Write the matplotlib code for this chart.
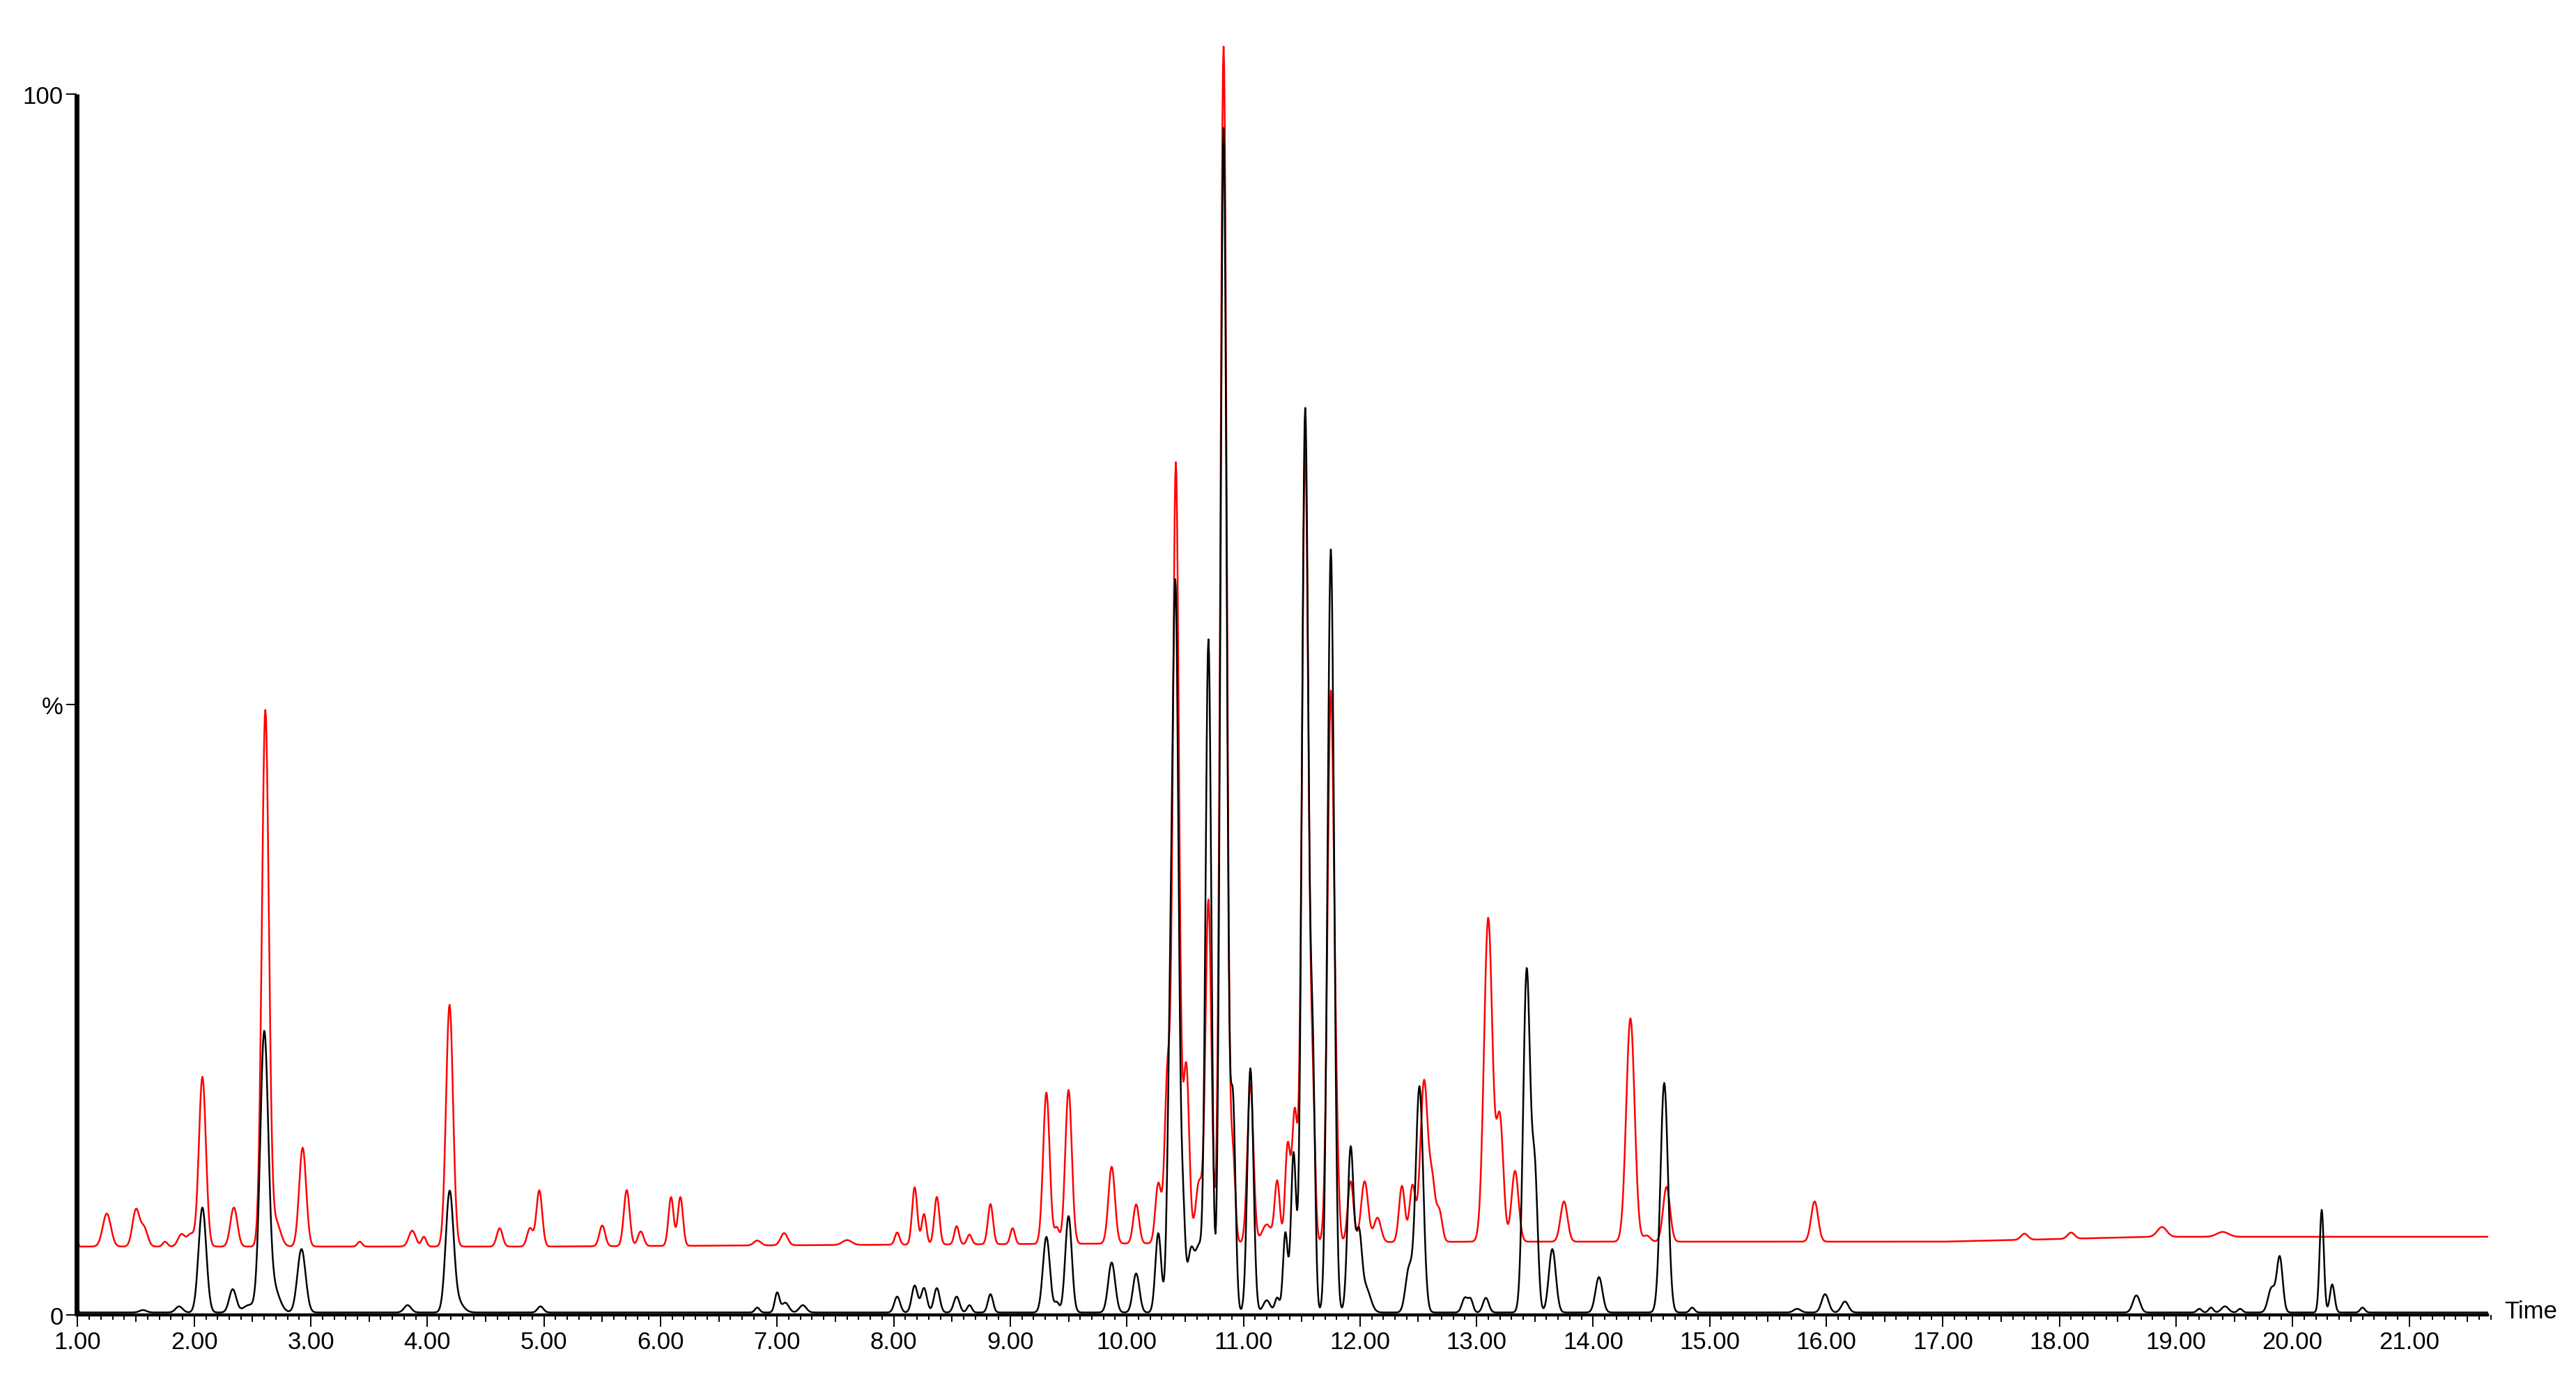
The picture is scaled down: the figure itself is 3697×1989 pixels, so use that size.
import numpy as np
import matplotlib
matplotlib.use("Agg")
import matplotlib.pyplot as plt
from matplotlib.ticker import MultipleLocator, FixedLocator

# ---------------- data ----------------
# Black trace: peak retention times (min), heights (%), widths (sigma, min)
black_rt = [0.995, 1.56, 1.87, 2.07, 2.33, 2.47, 2.60, 2.68, 2.92, 3.83, 4.19, 4.25,
            4.97, 6.83, 7.00, 7.07, 7.22, 8.03, 8.18, 8.26, 8.37, 8.54, 8.65, 8.83,
            9.31, 9.40, 9.50, 9.87, 10.08, 10.27, 10.375, 10.42, 10.48, 10.55, 10.62,
            10.70, 10.83, 10.91, 11.06, 11.20, 11.29, 11.36, 11.43, 11.53, 11.595,
            11.75, 11.92, 11.99, 12.05, 12.42, 12.51, 12.90, 12.95, 13.08, 13.43,
            13.50, 13.65, 14.05, 14.61, 14.85, 15.75, 15.99, 16.16, 18.66, 19.20,
            19.30, 19.42, 19.55, 19.82, 19.89, 20.25, 20.34, 20.60]
black_h = [0.6, 0.2, 0.5, 8.6, 1.9, 0.6, 22.5, 2.0, 5.2, 0.6, 9.5, 1.0,
           0.5, 0.4, 1.6, 0.8, 0.6, 1.3, 2.2, 2.0, 2.0, 1.3, 0.6, 1.5,
           6.2, 0.8, 7.9, 4.1, 3.2, 6.5, 22.0, 55.0, 8.0, 5.0, 5.0,
           55.0, 97.0, 17.0, 20.0, 1.0, 1.2, 6.5, 13.0, 74.0, 19.0,
           62.5, 13.5, 6.0, 2.0, 3.5, 18.5, 1.2, 1.0, 1.2, 28.0,
           11.0, 5.2, 2.9, 18.8, 0.4, 0.3, 1.5, 0.9, 1.4, 0.3,
           0.4, 0.5, 0.3, 2.0, 4.5, 8.4, 2.3, 0.4]
black_w = [0.008, 0.03, 0.03, 0.033, 0.03, 0.05, 0.035, 0.05, 0.035, 0.03, 0.033, 0.05,
           0.025, 0.02, 0.02, 0.03, 0.03, 0.025, 0.025, 0.025, 0.025, 0.025, 0.02, 0.022,
           0.03, 0.02, 0.028, 0.03, 0.028, 0.025, 0.025, 0.025, 0.02, 0.03, 0.03,
           0.025, 0.027, 0.022, 0.026, 0.03, 0.02, 0.02, 0.022, 0.028, 0.02,
           0.028, 0.026, 0.025, 0.04, 0.03, 0.032, 0.025, 0.02, 0.025, 0.03,
           0.025, 0.03, 0.03, 0.032, 0.02, 0.03, 0.03, 0.03, 0.03, 0.02,
           0.02, 0.03, 0.02, 0.03, 0.025, 0.018, 0.02, 0.02]
black_base = 0.2

# Red trace: peak retention times (min), heights above its baseline (%), widths
red_rt = [0.995, 1.25, 1.50, 1.57, 1.75, 1.89, 1.97, 2.07, 2.34, 2.61, 2.70, 2.93,
          3.42, 3.87, 3.97, 4.19, 4.62, 4.88, 4.96, 5.50, 5.71, 5.83, 6.09, 6.17,
          6.83, 7.06, 7.60, 8.03, 8.18, 8.26, 8.37, 8.54, 8.65, 8.83, 9.02, 9.31,
          9.40, 9.50, 9.87, 10.08, 10.27, 10.35, 10.42, 10.46, 10.51, 10.62, 10.70,
          10.83, 10.91, 11.06, 11.20, 11.29, 11.38, 11.44, 11.53, 11.595, 11.75,
          11.80, 11.92, 12.04, 12.15, 12.36, 12.45, 12.55, 12.62, 12.68, 13.10,
          13.20, 13.33, 13.75, 14.32, 14.46, 14.63, 15.90, 17.70, 18.10, 18.88, 19.40]
red_h = [1.0, 2.7, 3.0, 1.5, 0.4, 1.0, 1.0, 13.9, 3.2, 43.8, 2.0, 8.1,
         0.4, 1.3, 0.8, 19.8, 1.5, 1.5, 4.6, 1.7, 4.6, 1.2, 4.0, 4.0,
         0.4, 1.0, 0.4, 1.0, 4.7, 2.5, 3.9, 1.5, 0.8, 3.3, 1.3, 12.4,
         1.3, 12.6, 6.3, 3.2, 4.9, 14.0, 63.0, 5.0, 14.5, 5.0, 28.0,
         98.0, 7.0, 13.0, 1.5, 5.0, 8.0, 10.5, 65.0, 11.0, 45.0,
         4.5, 5.0, 5.0, 2.0, 4.6, 4.6, 13.2, 4.5, 2.5, 26.5,
         10.0, 5.8, 3.3, 18.3, 0.5, 4.5, 3.3, 0.5, 0.5, 0.8, 0.4]
red_w = [0.008, 0.035, 0.03, 0.03, 0.02, 0.03, 0.03, 0.03, 0.03, 0.03, 0.04, 0.03,
         0.02, 0.03, 0.02, 0.03, 0.025, 0.025, 0.025, 0.025, 0.025, 0.025, 0.022, 0.022,
         0.03, 0.03, 0.04, 0.02, 0.022, 0.02, 0.022, 0.02, 0.02, 0.022, 0.02, 0.028,
         0.02, 0.028, 0.028, 0.025, 0.025, 0.025, 0.025, 0.02, 0.025, 0.03, 0.025,
         0.027, 0.02, 0.026, 0.04, 0.022, 0.022, 0.022, 0.028, 0.02, 0.028,
         0.02, 0.025, 0.03, 0.03, 0.025, 0.025, 0.032, 0.025, 0.025, 0.036,
         0.03, 0.03, 0.03, 0.036, 0.03, 0.03, 0.03, 0.03, 0.03, 0.04, 0.05]
# red baseline read at a few times
red_base_t = [0.99, 5.0, 9.0, 13.0, 17.0, 18.8, 21.67]
red_base_v = [5.6, 5.6, 5.8, 6.0, 6.0, 6.4, 6.4]

x_major = [1, 2, 3, 4, 5, 6, 7, 8, 9, 10, 11, 12, 13, 14, 15, 16, 17, 18, 19, 20, 21]
x_labels = ["%.2f" % v for v in x_major]
y_ticks = [0, 50, 100]
y_labels = ["0", "%", "100"]

# ---------------- build traces ----------------
t = np.arange(0.99, 21.67, 0.005)


def trace(rt, h, w, base):
    rt = np.asarray(rt)[:, None]
    h = np.asarray(h)[:, None]
    w = np.asarray(w)[:, None]
    return base + (h * np.exp(-0.5 * ((t[None, :] - rt) / w) ** 2)).sum(axis=0)


black = trace(black_rt, black_h, black_w, black_base)
red = trace(red_rt, red_h, red_w, np.interp(t, red_base_t, red_base_v))

# ---------------- figure ----------------
W, H = 3698, 1990
fig = plt.figure(figsize=(W / 100, H / 100), dpi=100)
fig.patch.set_facecolor("white")
plt.rcParams["font.family"] = ["Liberation Sans", "DejaVu Sans"]

left = 110.3 / W
right = 3578 / W
bottom = (H - 1888) / H
ax = fig.add_axes([left, bottom, right - left, 1.0 - bottom])
ax.set_xlim(0.993, 21.72)
ax.set_ylim(0, 1888 / 17.52)

ax.plot(t, red, color="#ff0000", lw=1.8, zorder=2)
ax.plot(t, black, color="black", lw=1.8, zorder=3)

for s in ["top", "right"]:
    ax.spines[s].set_visible(False)
ax.spines["left"].set_linewidth(5)
ax.spines["left"].set_bounds(0, 100)
ax.spines["bottom"].set_linewidth(3.2)
ax.spines["bottom"].set_bounds(0.993, 21.67)
ax.spines["left"].set_capstyle("butt")

fs = 25
ax.xaxis.set_major_locator(FixedLocator(x_major))
ax.set_xticklabels(x_labels, fontsize=fs)
ax.xaxis.set_minor_locator(MultipleLocator(0.1))
ax.tick_params(axis="x", which="major", length=12, width=1.4, pad=4)
ax.tick_params(axis="x", which="minor", length=5, width=1.4)

ax.set_yticks(y_ticks)
ax.set_yticklabels(y_labels, fontsize=fs)
ax.tick_params(axis="y", which="major", length=11, width=1.4, pad=3)

# half-minute ticks (slightly longer)
sec = ax.secondary_xaxis("bottom")
sec.spines["bottom"].set_visible(False)
sec.set_xticks([v + 0.5 for v in x_major if v + 0.5 < 21.7])
sec.set_xticklabels([])
sec.tick_params(axis="x", length=7.5, width=1.4)

ax.text(21.82, 0.3, "Time", fontsize=fs, ha="left", va="center", clip_on=False)

fig.savefig("out.png", dpi=100, facecolor="white")
